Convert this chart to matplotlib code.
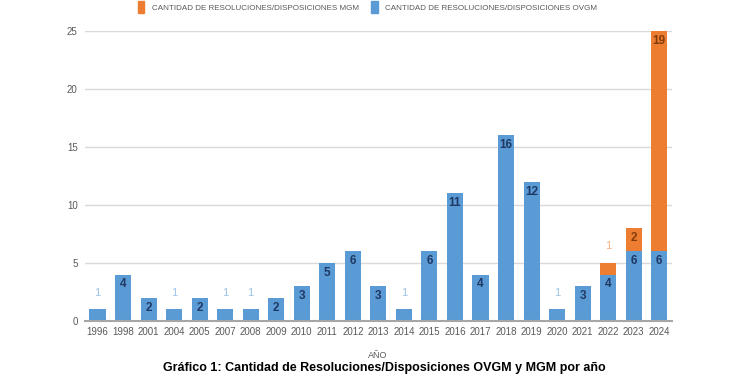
import matplotlib
matplotlib.use("Agg")
import matplotlib.pyplot as plt
from matplotlib.patches import Patch
import numpy as np

plt.rcParams["font.family"] = ["Liberation Sans Narrow", "Liberation Sans", "DejaVu Sans"]

years = ["1996", "1998", "2001", "2004", "2005", "2007", "2008", "2009", "2010",
         "2011", "2012", "2013", "2014", "2015", "2016", "2017", "2018", "2019",
         "2020", "2021", "2022", "2023", "2024"]
ovgm = [1, 4, 2, 1, 2, 1, 1, 2, 3, 5, 6, 3, 1, 6, 11, 4, 16, 12, 1, 3, 4, 6, 6]
mgm = [0, 0, 0, 0, 0, 0, 0, 0, 0, 0, 0, 0, 0, 0, 0, 0, 0, 0, 0, 0, 1, 2, 19]

legend_labels = ["CANTIDAD DE RESOLUCIONES/DISPOSICIONES MGM",
                 "CANTIDAD DE RESOLUCIONES/DISPOSICIONES OVGM"]
x_label = "AÑO"
caption = "Gráfico 1: Cantidad de Resoluciones/Disposiciones OVGM y MGM por año"

BLUE = "#5b9bd5"
ORANGE = "#ed7d31"
BLUE_DARK = "#1f3864"
BLUE_LIGHT = "#9dc3e6"
ORANGE_DARK = "#843c0c"
ORANGE_LIGHT = "#f4b183"
GRAY = "#595959"

fig = plt.figure(figsize=(7.5, 3.75), dpi=100)
ax = fig.add_axes([0.113, 0.144, 0.783, 0.773])

x = np.arange(len(years))
width = 0.63
ax.bar(x, ovgm, width, color=BLUE, zorder=2)
ax.bar(x, mgm, width, bottom=ovgm, color=ORANGE, zorder=2)


def label_bars(values, bottoms, dark, light):
    for xi, v, b in zip(x, values, bottoms):
        if v == 0:
            continue
        top = v + b
        if v == 1:
            # small values sit above the bar in a pale tone
            ax.annotate(str(v), (xi, top), xytext=(0, 12), textcoords="offset points",
                        ha="center", va="center", fontsize=8, color=light)
        else:
            ax.annotate(str(v), (xi, top), xytext=(0, -7), textcoords="offset points",
                        ha="center", va="center", fontsize=8.5, color=dark,
                        fontweight="bold")


label_bars(ovgm, [0] * len(ovgm), BLUE_DARK, BLUE_LIGHT)
label_bars(mgm, ovgm, ORANGE_DARK, ORANGE_LIGHT)

ax.set_xlim(-0.5, len(years) - 0.5)
ax.set_ylim(0, 25)
ax.set_yticks([0, 5, 10, 15, 20, 25])
ax.set_xticks(x)
ax.set_xticklabels(years)
ax.tick_params(axis="both", length=0, labelsize=7, colors=GRAY)
ax.tick_params(axis="x", pad=4)
ax.tick_params(axis="y", pad=5)
ax.grid(axis="y", color="#d9d9d9", linewidth=1, zorder=0)
for side in ["top", "right", "left"]:
    ax.spines[side].set_visible(False)
ax.spines["bottom"].set_color("#a6a6a6")
ax.spines["bottom"].set_linewidth(1.5)
ax.spines["bottom"].set_zorder(3)

fig.text(0.504, 0.053, x_label, ha="center", va="center", fontsize=6.5, color=GRAY)

handles = [Patch(color=ORANGE), Patch(color=BLUE)]
fig.legend(handles, legend_labels, loc="center", bbox_to_anchor=(0.49, 0.981),
           ncol=2, frameon=False, fontsize=5.8, labelcolor=GRAY,
           handlelength=0.8, handleheight=1.8, handletextpad=0.9, columnspacing=1.6)

fig.text(0.512, 0.004, caption, ha="center", va="bottom", fontsize=9,
         fontweight="bold", color="black")

fig.savefig("out.png", dpi=100)
